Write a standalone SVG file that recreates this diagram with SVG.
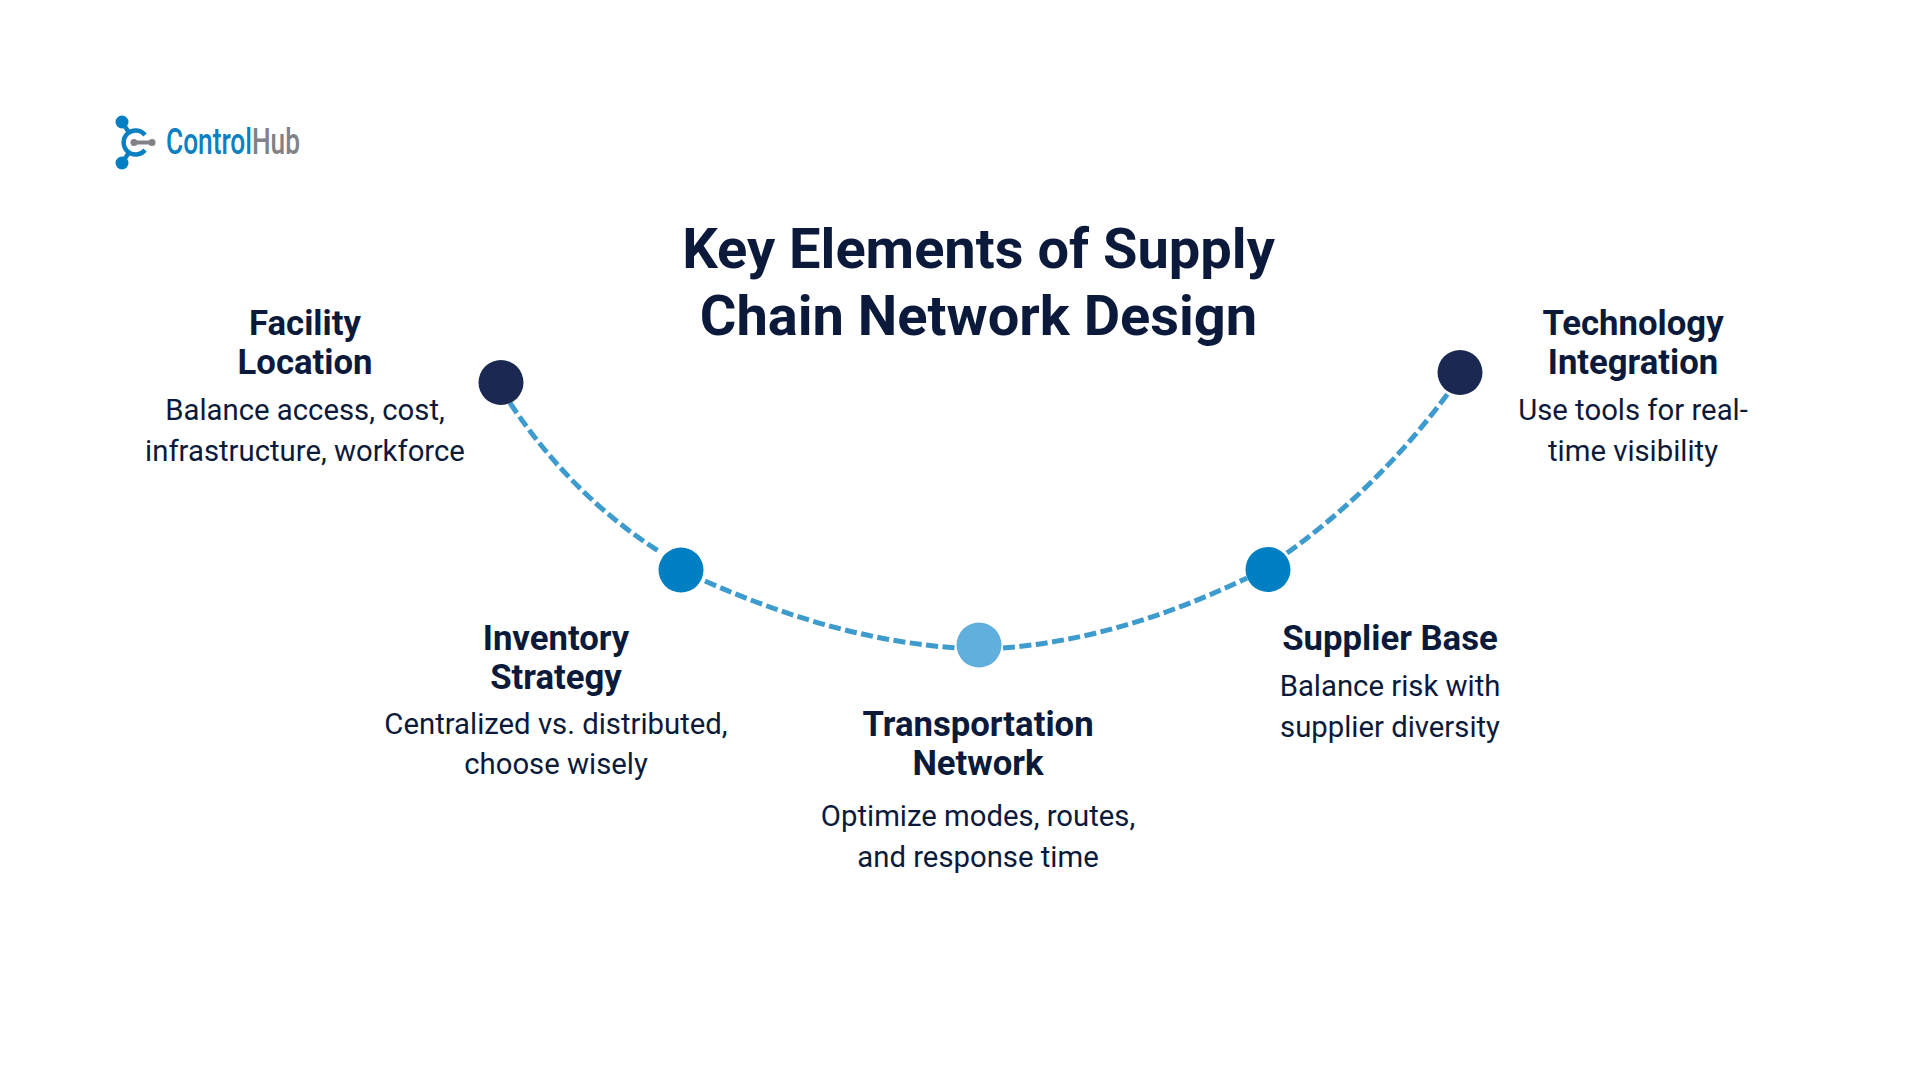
<svg xmlns="http://www.w3.org/2000/svg" width="1920" height="1080" viewBox="0 0 1920 1080">
<style>
text{font-family:Roboto,"Noto Sans",sans-serif;fill:#0b1a3a;text-anchor:middle}
.t{font-size:56px;font-weight:700}
.h{font-size:34.700px;font-weight:700}
.b{font-size:29.300px;font-weight:400}
.c{fill:none;stroke:#3e9bcd;stroke-width:5;stroke-dasharray:12 4.500}
.lb{fill:none;stroke:#0a80c2;stroke-width:4.500}
.lg{fill:none;stroke:#808285;stroke-width:4}
.navy{fill:#1b2852}.blue{fill:#0080c2}.light{fill:#61afdc}
</style>
<rect width="1920" height="1080" fill="#fff"/>
<g id="logo">
<path class="lb" d="M122 122L130 134M122 163L130 151M145 135A12 12 0 1 0 145 150"/>
<path class="lg" d="M136 142.500H152"/>
<circle cx="122" cy="122" r="6.500" class="blue"/><circle cx="122" cy="163" r="6.500" class="blue"/>
<circle cx="134" cy="142.500" r="3.500" fill="#808285"/><circle cx="152" cy="142.500" r="3.500" fill="#808285"/>
<text x="166" y="154" style="text-anchor:start;font-size:36px;font-weight:500;fill:#0a80c2" transform="translate(166 0) scale(0.73 1) translate(-166 0)">Control<tspan style="fill:#808285">Hub</tspan></text>
</g>
<g id="connectors">
<path class="c" d="M510 403Q573 497 660 552"/>
<path class="c" d="M705 581Q838 640 957 648"/>
<path class="c" d="M1003 648Q1120 639 1247 578"/>
<path class="c" d="M1287 553Q1379 487 1449 392"/>
</g>
<g id="title"><text class="t" x="978.500" y="268">Key Elements of Supply</text><text class="t" x="978.500" y="335">Chain Network Design</text></g>
<g id="node-facility"><circle cx="501" cy="382.500" r="22.500" class="navy"/>
<text class="h" x="305" y="335">Facility</text><text class="h" x="305" y="374">Location</text>
<text class="b" x="305" y="419.500">Balance access, cost,</text><text class="b" x="305" y="460.500">infrastructure, workforce</text></g>
<g id="node-inventory"><circle cx="681" cy="570" r="22.500" class="blue"/>
<text class="h" x="556" y="650">Inventory</text><text class="h" x="556" y="689">Strategy</text>
<text class="b" x="556" y="733.500">Centralized vs. distributed,</text><text class="b" x="556" y="774">choose wisely</text></g>
<g id="node-transportation"><circle cx="979" cy="645" r="22.500" class="light"/>
<text class="h" x="978" y="736">Transportation</text><text class="h" x="978" y="775">Network</text>
<text class="b" x="978" y="825.500">Optimize modes, routes,</text><text class="b" x="978" y="866.500">and response time</text></g>
<g id="node-supplier"><circle cx="1268" cy="569.500" r="22.500" class="blue"/>
<text class="h" x="1390" y="650">Supplier Base</text>
<text class="b" x="1390" y="695.500">Balance risk with</text><text class="b" x="1390" y="736.500">supplier diversity</text></g>
<g id="node-technology"><circle cx="1460" cy="372.500" r="22.500" class="navy"/>
<text class="h" x="1633" y="335">Technology</text><text class="h" x="1633" y="374">Integration</text>
<text class="b" x="1633" y="419.500">Use tools for real-</text><text class="b" x="1633" y="460.500">time visibility</text></g>
</svg>
